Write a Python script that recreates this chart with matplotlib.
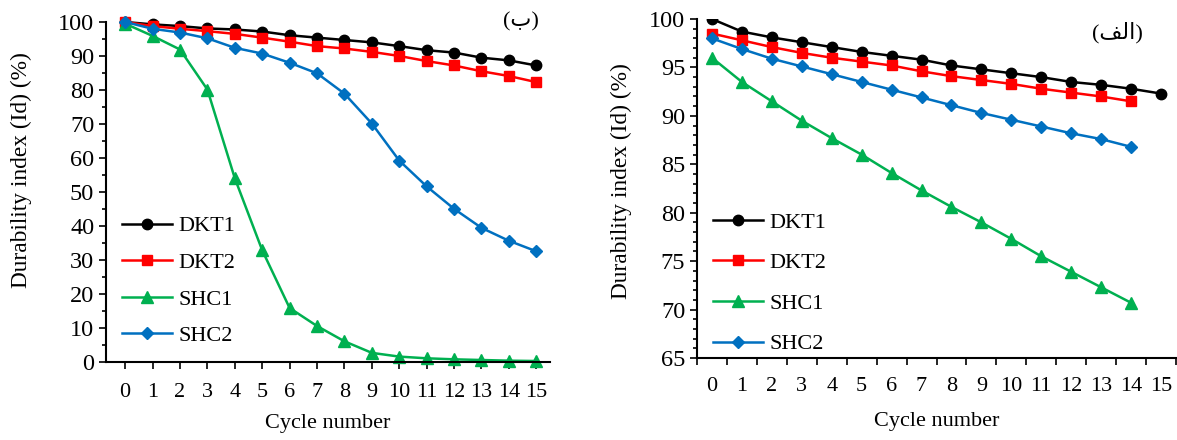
import matplotlib.pyplot as plt
from matplotlib.ticker import MultipleLocator, FixedLocator

plt.rcParams['font.family'] = ['Liberation Serif', 'DejaVu Sans']

# Données
cycles_b = list(range(16))
dkt1_b = [100, 99.3, 98.8, 98.1, 97.8, 97.2, 96.1, 95.4, 94.7, 94.0, 92.9, 91.7, 91.0, 89.5, 88.7, 87.2]
dkt2_b = [100, 98.8, 98.0, 97.3, 96.5, 95.4, 94.2, 92.9, 92.2, 91.2, 90.0, 88.5, 87.2, 85.5, 84.1, 82.3]
shc1_b = [99.5, 95.9, 91.9, 80.1, 54.0, 32.8, 15.8, 10.5, 6.0, 2.6, 1.5, 1.0, 0.7, 0.5, 0.3, 0.2]
shc2_b = [100, 98.0, 96.9, 95.2, 92.4, 90.7, 88.0, 84.9, 78.9, 70.1, 59.2, 51.6, 45.0, 39.4, 35.6, 32.5]

cycles_a = list(range(16))
cycles_a14 = list(range(15))
dkt1_a = [100, 98.7, 98.1, 97.6, 97.1, 96.6, 96.2, 95.8, 95.2, 94.8, 94.4, 94.0, 93.5, 93.2, 92.8, 92.3]
dkt2_a = [98.5, 97.8, 97.1, 96.5, 96.0, 95.6, 95.2, 94.6, 94.1, 93.7, 93.3, 92.8, 92.4, 92.0, 91.5]
shc1_a = [96.0, 93.5, 91.5, 89.5, 87.7, 86.0, 84.1, 82.3, 80.6, 79.0, 77.3, 75.5, 73.9, 72.3, 70.7]
shc2_a = [98.0, 96.9, 95.9, 95.1, 94.3, 93.5, 92.7, 91.9, 91.1, 90.3, 89.6, 88.9, 88.2, 87.6, 86.8]

labels = ['DKT1', 'DKT2', 'SHC1', 'SHC2']
colors = ['black', '#FF0000', '#00B050', '#0070C0']
markers = ['o', 's', '^', 'D']
msizes = [7.5, 7.5, 8.5, 6.5]

fig = plt.figure(figsize=(11.77, 4.4), dpi=100)
ax1 = fig.add_axes([106/1177, 1-361.7/440, 444/1177, 339.7/440])
ax2 = fig.add_axes([697/1177, 1-358/440, 479/1177, 339/440])

fs = 16
fs_y = 17.5
fs_lab = 16.8

# Panneau (ب)
series_b = [dkt1_b, dkt2_b, shc1_b, shc2_b]
for s, lab, c, m, ms in zip(series_b, labels, colors, markers, msizes):
    ax1.plot(cycles_b, s, color=c, marker=m, markersize=ms, linewidth=1.8, label=lab, clip_on=False)
ax1.set_xlim(-0.7, 15.5)
ax1.set_ylim(0, 100)
ax1.set_xticks(cycles_b)
ax1.yaxis.set_major_locator(MultipleLocator(10))
ax1.yaxis.set_minor_locator(MultipleLocator(5))
ax1.tick_params(axis='x', which='major', direction='out', length=5, width=1.2, labelsize=fs, pad=10)
ax1.tick_params(axis='y', which='major', direction='out', length=5, width=1.2, labelsize=fs_y)
ax1.tick_params(axis='y', which='minor', direction='out', length=3, width=1.2)
ax1.set_xlabel('Cycle number', fontsize=fs, labelpad=9)
ax1.set_ylabel('Durability index (Id) (%)', fontsize=fs_lab)
ax1.yaxis.set_label_coords(-0.167, 0.564)
ax1.legend(loc='lower left', bbox_to_anchor=(0.0, 0.0), frameon=False, fontsize=fs,
           handlelength=2.25, handletextpad=0.3, labelspacing=0.72, borderaxespad=0.3)
ax1.text(0.975, 1.0, '(\u0628)', transform=ax1.transAxes, ha='right', va='center', fontsize=fs)

# Panneau (الف)
ax2.plot(cycles_a, dkt1_a, color=colors[0], marker=markers[0], markersize=msizes[0], linewidth=1.8, label=labels[0])
ax2.plot(cycles_a14, dkt2_a, color=colors[1], marker=markers[1], markersize=msizes[1], linewidth=1.8, label=labels[1])
ax2.plot(cycles_a14, shc1_a, color=colors[2], marker=markers[2], markersize=msizes[2], linewidth=1.8, label=labels[2])
ax2.plot(cycles_a14, shc2_a, color=colors[3], marker=markers[3], markersize=msizes[3], linewidth=1.8, label=labels[3])
ax2.set_xlim(-0.5, 15.5)
ax2.set_ylim(65, 100)
ax2.set_xticks(cycles_a)
ax2.xaxis.set_minor_locator(FixedLocator([k - 0.5 for k in range(17)]))
ax2.yaxis.set_major_locator(MultipleLocator(5))
ax2.yaxis.set_minor_locator(MultipleLocator(1))
ax2.tick_params(axis='x', which='major', length=0, pad=14, labelsize=fs)
ax2.tick_params(axis='x', which='minor', direction='out', length=5, width=1.2)
ax2.tick_params(axis='y', which='major', direction='out', length=5, width=1.2, labelsize=fs_y)
ax2.tick_params(axis='y', which='minor', direction='out', length=3, width=1.2)
ax2.set_xlabel('Cycle number', fontsize=fs, labelpad=11)
ax2.set_ylabel('Durability index (Id) (%)', fontsize=fs_lab)
ax2.yaxis.set_label_coords(-0.136, 0.522)
ax2.legend(loc='lower left', bbox_to_anchor=(0.0, -0.035), frameon=False, fontsize=fs,
           handlelength=2.25, handletextpad=0.3, labelspacing=0.9, borderaxespad=0.3)
ax2.text(0.93, 0.96, '(\uFED2\uFEDF\u0627)', transform=ax2.transAxes, ha='right', va='center', fontsize=fs)

for ax in (ax1, ax2):
    ax.spines['top'].set_visible(False)
    ax.spines['right'].set_visible(False)
    ax.spines['left'].set_linewidth(1.5)
    ax.spines['bottom'].set_linewidth(1.5)

fig.savefig('out.png', dpi=100)
